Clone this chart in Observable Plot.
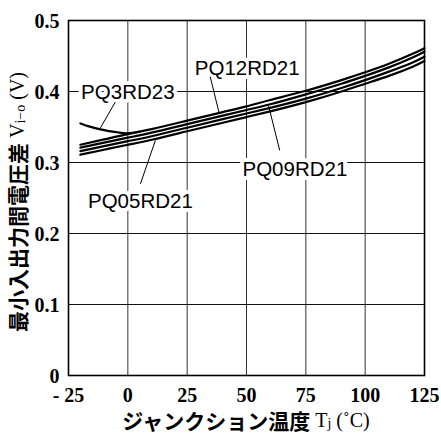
<!DOCTYPE html>
<html>
<head>
<meta charset="utf-8">
<script src="https://cdn.jsdelivr.net/npm/d3@7"></script>
<script src="https://cdn.jsdelivr.net/npm/@observablehq/plot@0.6"></script>
<style>
  html, body { margin: 0; padding: 0; background: #fff; }
  svg { display: block; }
</style>
</head>
<body>
<div id="chart"></div>
<script>
// Junction temperature (°C)
const temps = [-20, -10, 0, 10, 25, 40, 50, 60, 75, 90, 100, 110, 120, 125];
// Four nearly parallel curves (V), top to bottom
const vLine1 = [0.325, 0.3325, 0.340, 0.347, 0.359, 0.371, 0.379, 0.388, 0.401, 0.416, 0.427, 0.439, 0.453, 0.461];
const vLine2 = [0.321, 0.328, 0.335, 0.342, 0.354, 0.366, 0.374, 0.382, 0.396, 0.411, 0.422, 0.434, 0.448, 0.456];
const vLine3 = [0.316, 0.323, 0.330, 0.337, 0.349, 0.361, 0.369, 0.377, 0.390, 0.405, 0.416, 0.428, 0.441, 0.449];
const vLine4 = [0.311, 0.318, 0.325, 0.332, 0.344, 0.356, 0.364, 0.372, 0.385, 0.400, 0.411, 0.422, 0.435, 0.443];
// PQ3RD23 low-temperature branch
const tempsPQ3 = [-20, -16, -12, -8, -4, 0, 5];
const vPQ3 = [0.355, 0.3505, 0.347, 0.3443, 0.3423, 0.341, 0.3435];

const xTicks = [-25, 0, 25, 50, 75, 100, 125];
const yTicks = [0, 0.1, 0.2, 0.3, 0.4, 0.5];

// Labels (data-space anchor) and leader lines
const labelNames = ["PQ3RD23", "PQ12RD21", "PQ05RD21", "PQ09RD21"];
const labelX = [0, 50.3, 5.3, 70.4];
const labelY = [0.399, 0.4324, 0.2455, 0.2906];
const leaderX1 = [-5.3, 34.7, 5.3, 64];
const leaderY1 = [0.385, 0.421, 0.270, 0.317];
const leaderX2 = [-11.6, 38.4, 11.6, 59.3];
const leaderY2 = [0.3485, 0.3706, 0.331, 0.380];

const series = [
  ["line1", vLine1], ["line2", vLine2], ["line3", vLine3], ["line4", vLine4]
];
const curveData = [];
for (const [name, vals] of series) temps.forEach((t, i) => curveData.push({name, t, v: vals[i]}));
tempsPQ3.forEach((t, i) => curveData.push({name: "PQ3RD23", t, v: vPQ3[i]}));

const labels = labelNames.map((n, i) => ({n, x: labelX[i], y: labelY[i]}));
const leaders = labelNames.map((n, i) => ({x1: leaderX1[i], y1: leaderY1[i], x2: leaderX2[i], y2: leaderY2[i]}));

const serif = "'Liberation Serif', 'DejaVu Serif', serif";
const sans = "'Liberation Sans', Arial, sans-serif";

const svg = Plot.plot({
  width: 441,
  height: 434,
  marginLeft: 68,
  marginRight: 17,
  marginTop: 20,
  marginBottom: 59,
  x: {domain: [-25, 125], ticks: xTicks},
  y: {domain: [0, 0.5], ticks: yTicks},
  style: {background: "#fff"},
  marks: [
    Plot.gridX(xTicks, {stroke: "#333", strokeOpacity: 1, strokeWidth: 1}),
    Plot.gridY(yTicks, {stroke: "#111", strokeOpacity: 1, strokeWidth: 1}),
    Plot.line(curveData, {x: "t", y: "v", z: "name", stroke: "#000", strokeWidth: 2.2, curve: "natural"}),
    Plot.text(labels, {x: "x", y: "y", text: "n", fontSize: 20.5, fontFamily: sans, fill: "#000", stroke: "#fff", strokeWidth: 8}),
    Plot.link(leaders, {x1: "x1", y1: "y1", x2: "x2", y2: "y2", stroke: "#000", strokeWidth: 1}),
    Plot.frame({stroke: "#000", strokeWidth: 1.6}),
    Plot.axisY(yTicks, {tickSize: 0, tickPadding: 9, fontSize: 20, fontFamily: serif, fontWeight: "bold", fill: "#000", dy: 1,
      tickFormat: d => d === 0 ? "0" : d.toFixed(1), label: null}),
    Plot.axisX(xTicks, {tickSize: 0, tickPadding: 12, fontSize: 20, fontFamily: serif, fontWeight: "bold", fill: "#000",
      tickFormat: d => d === -25 ? "- 25" : String(d), label: null})
  ]
});

const s = d3.select(svg);
// X axis title
const xt = s.append("text")
  .attr("x", 246).attr("y", 420)
  .attr("text-anchor", "middle")
  .attr("dominant-baseline", "central")
  .attr("fill", "#000");
xt.append("tspan").attr("font-family", "'Noto Sans CJK JP', sans-serif").attr("font-weight", 700).attr("font-size", 21).text("ジャンクション温度");
xt.append("tspan").attr("font-family", serif).attr("font-size", 20).text(" T");
xt.append("tspan").attr("font-family", serif).attr("font-size", 14).attr("dy", 3).text("j");
xt.append("tspan").attr("font-family", serif).attr("font-size", 20).attr("dy", -3).text(" (˚C)");

// Y axis title
const yt = s.append("text")
  .attr("transform", "translate(17,202) rotate(-90)")
  .attr("text-anchor", "middle")
  .attr("dominant-baseline", "central")
  .attr("fill", "#000");
yt.append("tspan").attr("font-family", "'Noto Sans CJK JP', sans-serif").attr("font-weight", 700).attr("font-size", 21).text("最小入出力間電圧差");
yt.append("tspan").attr("font-family", serif).attr("font-size", 20).text(" V");
yt.append("tspan").attr("font-family", serif).attr("font-size", 14).attr("dy", 3).text("i−o");
yt.append("tspan").attr("font-family", serif).attr("font-size", 20).attr("dy", -3).text(" (V)");

document.getElementById("chart").appendChild(svg);
</script>
</body>
</html>
